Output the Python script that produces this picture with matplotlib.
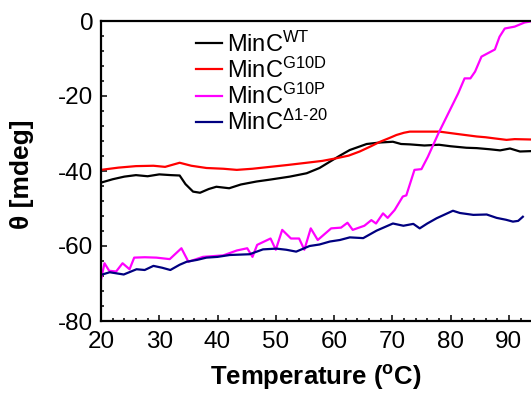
import matplotlib
matplotlib.use("Agg")
import matplotlib.pyplot as plt
from matplotlib.ticker import MultipleLocator

plt.rcParams["font.family"] = ["Liberation Sans", "DejaVu Sans"]
plt.rcParams["mathtext.fontset"] = "custom"
plt.rcParams["mathtext.rm"] = "Liberation Sans"
plt.rcParams["mathtext.it"] = "Liberation Sans"
plt.rcParams["mathtext.bf"] = "Liberation Sans:bold"
plt.rcParams["axes.unicode_minus"] = False

# MinC wild type
wt_t = [20, 22, 24, 26, 28, 30, 32, 33.5, 34.5, 35.8, 37, 38.5, 39.8, 42, 44, 46.7, 49, 52.4,
        55.3, 57.5, 59.3, 61, 62.7, 65.6, 67.9, 70.1, 71.5, 73, 75.5, 78, 80, 82.7, 84.5, 86.7,
        88.5, 90.2, 91.9, 93.8]
wt_v = [-43.1, -42.2, -41.5, -41.1, -41.4, -40.9, -41.1, -41.2, -43.5, -45.5, -45.8, -44.8, -44.2,
        -44.6, -43.6, -42.8, -42.3, -41.5, -40.6, -39.2, -37.5, -35.9, -34.4, -32.8, -32.4, -32.2,
        -32.8, -32.9, -33.2, -33.0, -33.4, -33.8, -33.9, -34.2, -34.5, -34.0, -34.8, -34.7]

# MinC G10D
g10d_t = [20, 23, 26, 29, 31, 33.5, 35.5, 38.1, 41, 43.3, 46, 49.6, 52, 55.3, 58, 60.4, 62.5, 64.4,
          66.2, 67.9, 69.5, 70.7, 72, 73, 75.5, 78.1, 81, 84.5, 86, 87.5, 89.6, 91, 93.8]
g10d_v = [-39.7, -39.1, -38.7, -38.6, -38.9, -37.8, -38.6, -39.2, -39.4, -39.7, -39.4, -38.8, -38.4,
          -37.8, -37.3, -36.6, -35.9, -34.8, -33.5, -32.2, -31.2, -30.4, -29.8, -29.5, -29.5, -29.5,
          -30.1, -30.8, -31.0, -31.3, -31.7, -31.5, -31.6]

# MinC G10P
g10p_t = [20, 20.6, 21.4, 22.6, 23.7, 24.9, 25.7, 27.5, 29.5, 31.8, 33.8, 35, 37.5, 41, 43.3, 45.1,
          46, 46.8, 49.1, 50, 51.1, 52.6, 54, 54.9, 56, 57.2, 59.5, 61.2, 62.3, 63.2, 65.2, 66.4,
          67.2, 68.4, 69.2, 70.4, 71.8, 72.4, 73.8, 75, 76.1, 77.9, 79.9, 81.3, 82.4, 83.4, 84.2,
          85.3, 87.6, 88.4, 89.3, 91, 92.7, 93.8]
g10p_v = [-69, -64.6, -66.6, -66.8, -64.6, -66.2, -63.1, -63.0, -63.1, -63.5, -60.6, -64.2, -62.9,
          -62.5, -61.2, -60.6, -62.9, -59.7, -58.0, -61.0, -55.7, -58.0, -58.0, -61.0, -55.3, -58.4,
          -55.3, -55.1, -53.8, -55.7, -54.6, -53.1, -54.0, -51.3, -52.5, -50.4, -46.8, -46.5, -39.7,
          -39.5, -36.2, -30.0, -23.7, -19.3, -15.3, -15.3, -13.5, -9.5, -7.6, -4.2, -2.0, -1.5,
          -0.4, -0.1]

# MinC delta 1-20
d120_t = [20, 21.5, 23.9, 26.1, 27.5, 29, 30.5, 31.9, 33.5, 34.7, 36.5, 38.1, 40, 42.1, 45.5, 47.8,
          50.1, 51.8, 53.5, 55.8, 57.5, 59.3, 61, 62.7, 65, 67.3, 70.1, 71.9, 73.6, 74.7, 76, 77.6,
          79, 80.4, 81.6, 83.9, 86.2, 87.9, 89.5, 90.7, 91.6, 92.4]
d120_v = [-67.7, -67.0, -67.6, -66.2, -66.4, -65.3, -65.8, -66.4, -65.0, -64.2, -63.7, -63.1, -62.9,
          -62.4, -62.2, -60.9, -60.7, -61.0, -61.5, -60.0, -59.6, -58.8, -58.4, -57.7, -57.9, -55.9,
          -54.0, -54.6, -54.1, -55.3, -54.0, -52.6, -51.6, -50.6, -51.2, -51.7, -51.6, -52.5, -53.0,
          -53.5, -53.3, -52.2]

fig = plt.figure(figsize=(5.31, 3.96), dpi=100)
ax = fig.add_axes([101 / 531, 75 / 396, 430 / 531, 300 / 396])

ax.plot(wt_t, wt_v, color="black", lw=1.6, label=r"MinC$^{\mathrm{WT}}$")
ax.plot(g10d_t, g10d_v, color="#ff0000", lw=1.6, label=r"MinC$^{\mathrm{G10D}}$")
ax.plot(g10p_t, g10p_v, color="#ff00ff", lw=1.6, label=r"MinC$^{\mathrm{G10P}}$")
ax.plot(d120_t, d120_v, color="#000080", lw=1.6, label=r"MinC$^{\mathrm{\Delta 1\text{-}20}}$")

ax.set_xlim(20, 93.8)
ax.set_ylim(-80, 0)
ax.xaxis.set_major_locator(MultipleLocator(10))
ax.xaxis.set_minor_locator(MultipleLocator(2))
ax.yaxis.set_major_locator(MultipleLocator(20))
ax.yaxis.set_minor_locator(MultipleLocator(4))
ax.tick_params(which="both", direction="in", labelsize=17.5, width=1.1)
ax.tick_params(which="major", length=4.5)
ax.tick_params(which="minor", length=2.5)
ax.tick_params(axis="x", which="major", pad=7)
ax.tick_params(axis="y", which="major", pad=5.5)
ax.spines["right"].set_visible(False)
for s in ("left", "bottom", "top"):
    ax.spines[s].set_linewidth(1.6)

ax.set_xlabel(r"Temperature ($\mathbf{^o}$C)", fontsize=18.5, fontweight="bold")
ax.set_ylabel("θ [mdeg]", fontsize=19, fontweight="bold")
ax.xaxis.set_label_coords(0.5, -0.14)
ax.yaxis.set_label_coords(-0.155, 0.49)

ax.legend(loc="upper left", bbox_to_anchor=(0.2, 0.997), frameon=False, fontsize=17,
          handlelength=1.1, handletextpad=0.2, labelspacing=0.04, borderaxespad=0)

fig.savefig("out.png", dpi=100)
